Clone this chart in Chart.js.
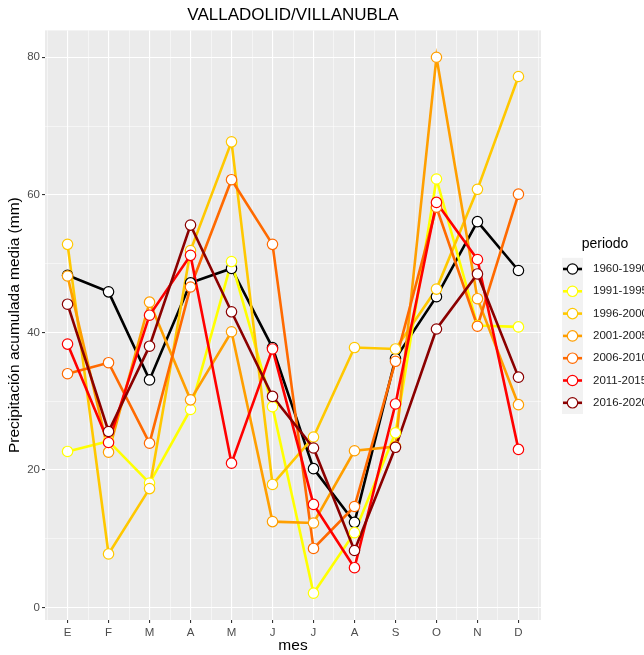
<!DOCTYPE html>
<html>
<head>
<meta charset="utf-8">
<script src="https://cdn.jsdelivr.net/npm/chart.js@4/dist/chart.umd.min.js"></script>
<style>
  html, body { margin: 0; padding: 0; background: #fff; }
  #wrap { width: 644px; height: 655px; }
</style>
</head>
<body>
<div id="wrap"><canvas id="grafico" width="644" height="655"></canvas></div>
<script>
const meses = ['E', 'F', 'M', 'A', 'M', 'J', 'J', 'A', 'S', 'O', 'N', 'D'];
const periodos = ['1960-1990', '1991-1995', '1996-2000', '2001-2005', '2006-2010', '2011-2015', '2016-2020'];
const colores = ['#000000', '#FFFF00', '#FFC800', '#FF9F00', '#FF6A00', '#FF0000', '#8B0000'];

// precipitación media por mes (mm)
const p1960_1990 = [48.3, 45.9, 33.1, 47.2, 49.3, 37.8, 20.2, 12.4, 36.2, 45.2, 56.1, 49.0];
const p1991_1995 = [22.7, 24.2, 18.1, 28.8, 50.3, 29.2, 2.1, 10.9, 25.4, 62.3, 41.0, 40.8];
const p1996_2000 = [52.8, 7.8, 17.3, 51.9, 67.7, 17.9, 24.8, 37.8, 37.6, 46.3, 60.8, 77.2];
const p2001_2005 = [48.2, 22.6, 44.4, 30.2, 40.1, 12.5, 12.3, 22.8, 23.4, 80.0, 44.9, 29.5];
const p2006_2010 = [34.0, 35.6, 23.9, 46.6, 62.2, 52.8, 8.6, 14.7, 35.8, 58.2, 40.9, 60.1];
const p2011_2015 = [38.3, 24.0, 42.5, 51.2, 21.0, 37.6, 15.0, 5.8, 29.6, 58.9, 50.6, 23.0];
const p2016_2020 = [44.1, 25.6, 38.0, 55.6, 43.0, 30.7, 23.2, 8.3, 23.3, 40.5, 48.5, 33.5];

const series = [p1960_1990, p1991_1995, p1996_2000, p2001_2005, p2006_2010, p2011_2015, p2016_2020];
const yTicks = [0, 10, 20, 30, 40, 50, 60, 70, 80];

const fuente = "'Liberation Sans', Arial, sans-serif";

const puntos = vals => vals.map((v, i) => ({ x: i + 1, y: v }));

// primero todas las líneas, luego los puntos encima (como geom_line + geom_point)
const datasets = [];
series.forEach((vals, i) => {
    datasets.push({
        label: periodos[i],
        data: puntos(vals),
        borderColor: colores[i],
        borderWidth: 2.6,
        pointRadius: 0,
        tension: 0,
        order: 20 - i
    });
});
series.forEach((vals, i) => {
    datasets.push({
        label: periodos[i] + ' puntos',
        data: puntos(vals),
        showLine: false,
        pointRadius: 5.2,
        pointBorderWidth: 1.2,
        pointBackgroundColor: '#FFFFFF',
        pointBorderColor: colores[i],
        order: 10 - i
    });
});

const fondoPanel = {
    id: 'fondoPanel',
    beforeDraw(chart) {
        const { ctx, chartArea: a } = chart;
        ctx.save();
        ctx.fillStyle = '#EBEBEB';
        ctx.fillRect(a.left, a.top, a.right - a.left, a.bottom - a.top);
        ctx.restore();
    }
};

const leyenda = {
    id: 'leyenda',
    afterDraw(chart) {
        const ctx = chart.ctx;
        const x0 = 562, y0 = 269, paso = 22.3;
        ctx.save();
        ctx.fillStyle = '#000';
        ctx.font = '14px ' + fuente;
        ctx.textAlign = 'center';
        ctx.textBaseline = 'middle';
        ctx.fillText('periodo', 605, 244);

        ctx.fillStyle = '#F2F2F2';
        ctx.fillRect(x0, y0 - paso / 2, 21, paso * periodos.length);

        ctx.textAlign = 'left';
        periodos.forEach((p, i) => {
            const y = y0 + i * paso;
            ctx.strokeStyle = colores[i];
            ctx.lineWidth = 2.6;
            ctx.beginPath();
            ctx.moveTo(x0 + 1, y);
            ctx.lineTo(x0 + 20, y);
            ctx.stroke();
            ctx.beginPath();
            ctx.arc(x0 + 10.5, y, 5.2, 0, Math.PI * 2);
            ctx.fillStyle = '#FFFFFF';
            ctx.fill();
            ctx.lineWidth = 1.2;
            ctx.stroke();
            ctx.fillStyle = '#1A1A1A';
            ctx.font = '11.5px ' + fuente;
            ctx.fillText(p, 593, y);
        });
        ctx.restore();
    }
};

new Chart(document.getElementById('grafico'), {
    type: 'line',
    data: { datasets: datasets },
    plugins: [fondoPanel, leyenda],
    options: {
        responsive: false,
        animation: false,
        layout: { padding: { left: 0, right: 103, top: 0, bottom: 0 } },
        plugins: {
            legend: { display: false },
            tooltip: { enabled: false },
            title: {
                display: true,
                fullSize: false,
                text: 'VALLADOLID/VILLANUBLA',
                color: '#000',
                font: { family: fuente, size: 17, weight: 'normal' },
                padding: { top: 5, bottom: 5 }
            }
        },
        scales: {
            x: {
                type: 'linear',
                min: 0.45,
                max: 12.55,
                afterFit: s => { s.height = 35; },
                afterBuildTicks: s => {
                    const t = [];
                    for (let v = 0.5; v <= 12.5; v += 0.5) t.push({ value: v });
                    s.ticks = t;
                },
                border: { display: false },
                grid: {
                    color: '#FFFFFF',
                    lineWidth: c => (c.tick && Number.isInteger(c.tick.value)) ? 1.1 : 0.5,
                    tickColor: c => (c.tick && Number.isInteger(c.tick.value)) ? '#333333' : 'rgba(0,0,0,0)',
                    tickLength: 3
                },
                ticks: {
                    autoSkip: false,
                    maxRotation: 0,
                    padding: 3,
                    color: '#4D4D4D',
                    font: { family: fuente, size: 11.5 },
                    callback: v => Number.isInteger(v) ? meses[v - 1] : ''
                },
                title: {
                    display: true,
                    text: 'mes',
                    color: '#000',
                    font: { family: fuente, size: 15.5 },
                    padding: { top: 0, bottom: 0 }
                }
            },
            y: {
                min: -1.8,
                max: 83.9,
                afterFit: s => { s.width = 45; },
                afterBuildTicks: s => { s.ticks = yTicks.map(v => ({ value: v })); },
                border: { display: false },
                grid: {
                    color: '#FFFFFF',
                    lineWidth: c => (c.tick && c.tick.value % 20 === 0) ? 1.1 : 0.5,
                    tickColor: c => (c.tick && c.tick.value % 20 === 0) ? '#333333' : 'rgba(0,0,0,0)',
                    tickLength: 3
                },
                ticks: {
                    padding: 2,
                    color: '#4D4D4D',
                    font: { family: fuente, size: 11.5 },
                    callback: v => (v % 20 === 0) ? String(v) : ''
                },
                title: {
                    display: true,
                    text: 'Precipitación acumulada media (mm)',
                    color: '#000',
                    font: { family: fuente, size: 15.5 },
                    padding: { top: 5, bottom: 0 }
                }
            }
        }
    }
});
</script>
</body>
</html>
